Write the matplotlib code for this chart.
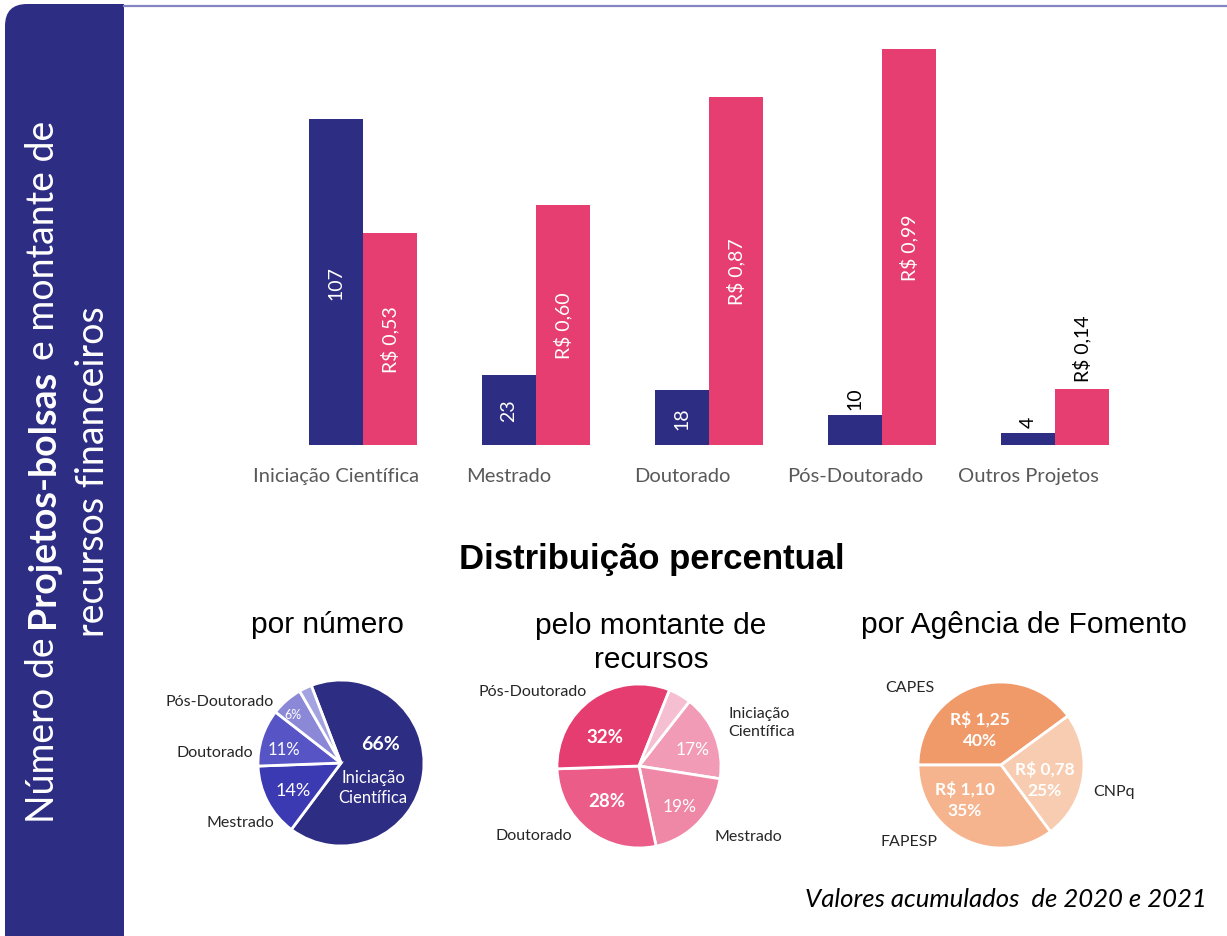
import numpy as np
import matplotlib
matplotlib.use('Agg')
import matplotlib.pyplot as plt
from matplotlib.patches import FancyBboxPatch, Rectangle
from matplotlib.lines import Line2D

# ---- data ----
categorias = ['Iniciação Científica', 'Mestrado', 'Doutorado', 'Pós-Doutorado', 'Outros Projetos']
n_bolsas = [107, 23, 18, 10, 4]
montante = [0.53, 0.60, 0.87, 0.99, 0.14]   # R$ (milhões)
agencias = ['CAPES', 'CNPq', 'FAPESP']
montante_agencia = [1.25, 0.78, 1.10]

NAVY = '#2e2d84'
PINK = '#e63e71'
cores_numero = ['#2e2d84', '#3c3ab2', '#5755c6', '#8b89d7', '#a4a3e1']
cores_montante = ['#f19bb6', '#ef87a7', '#eb5d88', '#e53d70', '#f6bfd1']
cores_agencia = ['#f09a69', '#f8ccb1', '#f5b48e']

W, H = 1227, 937
CAL = 'Lato'
ARIAL = 'Liberation Sans'


def fx(px):
    return px / W


def fy(py):
    return 1 - py / H


def reais(v):
    return f'R$ {v:.2f}'.replace('.', ',')


def pct(v, total):
    return f'{round(100 * v / total):.0f}%'


fig = plt.figure(figsize=(W / 100, H / 100), dpi=100)
fig.patch.set_facecolor('white')

# ---- side banner ----
banner = FancyBboxPatch((0.05, -0.5), 1.19, 9.82, boxstyle='round,pad=0,rounding_size=0.22',
                        transform=fig.dpi_scale_trans, facecolor=NAVY, edgecolor='none')
fig.patches.append(banner)
fig.patches.append(Rectangle((0.7, 8.8), 0.54, 0.52, transform=fig.dpi_scale_trans,
                             facecolor=NAVY, edgecolor='none'))
fig.lines.append(Line2D([fx(124), 1], [fy(7), fy(7)], transform=fig.transFigure,
                        color='#8584c2', lw=1.6))

# banner text, first line with bold middle part
renderer = fig.canvas.get_renderer()
side_size = 27
partes = [('Número de', 'normal'), ('Projetos-bolsas', 'bold'), ('e montante de', 'normal')]


def medir(s, weight):
    t = fig.text(0, 0, s, fontsize=side_size, family=CAL, weight=weight)
    w = t.get_window_extent(renderer).width
    t.remove()
    return w


espaco = medir('x x', 'normal') - medir('xx', 'normal')
larguras = [medir(s, wt) for s, wt in partes]
total = sum(larguras) + espaco * (len(partes) - 1)
centro_y = H - 472
y0 = centro_y - total / 2
for (s, wt), w in zip(partes, larguras):
    fig.text(fx(54), y0 / H, s, fontsize=side_size, family=CAL, weight=wt, color='white',
             rotation=90, rotation_mode='anchor', ha='left', va='baseline')
    y0 += w + espaco
fig.text(fx(104), centro_y / H, 'recursos financeiros', fontsize=side_size, family=CAL,
         color='white', rotation=90, rotation_mode='anchor', ha='center', va='baseline')

# ---- grouped bars ----
bar_left, bar_right, bar_top, bar_base = 170, 1210, 30, 446
passo, centro0 = 173, 336
px_bolsa, px_real = 3.047, 400
ax = fig.add_axes([fx(bar_left), fy(bar_base), (bar_right - bar_left) / W, (bar_base - bar_top) / H])
ax.set_xlim((bar_left - centro0) / passo, (bar_right - centro0) / passo)
ax.set_ylim(0, (bar_base - bar_top) / px_bolsa)
ax2 = ax.twinx()
ax2.set_ylim(0, (bar_base - bar_top) / px_real)

x = np.arange(len(categorias))
w = 54 / passo
ax.bar(x, n_bolsas, width=w, color=NAVY)
ax2.bar(x + w, montante, width=w, color=PINK)

for i, v in enumerate(n_bolsas):
    if v > 15:
        ax.text(i, v / 2, str(v), rotation=90, ha='center', va='center', color='white',
                fontsize=14, family=CAL)
    else:
        ax.annotate(str(v), (i, v), xytext=(0, 4), textcoords='offset points', rotation=90,
                    ha='center', va='bottom', color='black', fontsize=14, family=CAL)
for i, v in enumerate(montante):
    if v > 0.3:
        ax2.text(i + w, v / 2, reais(v), rotation=90, ha='center', va='center', color='white',
                 fontsize=14, family=CAL)
    else:
        ax2.annotate(reais(v), (i + w, v), xytext=(0, 6), textcoords='offset points', rotation=90,
                     ha='center', va='bottom', color='black', fontsize=14, family=CAL)

ax.set_xticks(x)
ax.set_xticklabels(categorias, family=CAL, fontsize=14.5, color='#595959')
ax.tick_params(axis='x', length=0, pad=16)
for a in (ax, ax2):
    a.set_yticks([])
    for sp in a.spines.values():
        sp.set_visible(False)
    a.patch.set_visible(False)

# ---- titles ----
fig.text(fx(652), fy(560), 'Distribuição percentual', family=ARIAL, weight='bold',
         fontsize=25, ha='center', va='center')
fig.text(fx(327), fy(625), 'por número', family=ARIAL, fontsize=21.5, ha='center', va='center')
fig.text(fx(651), fy(643), 'pelo montante de\nrecursos', family=ARIAL, fontsize=21.5,
         ha='center', va='center', linespacing=1.25)
fig.text(fx(1024), fy(625), 'por Agência de Fomento', family=ARIAL, fontsize=21.5,
         ha='center', va='center')


def pie_axes(cx, cy, r):
    a = fig.add_axes([fx(cx - r), fy(cy + r), 2 * r / W, 2 * r / H])
    return a


def txt(px, py, s, size=11.5, color='#262626', weight='normal', ha='center', ls=1.3):
    fig.text(fx(px), fy(py), s, family=CAL, fontsize=size, color=color, weight=weight,
             ha=ha, va='center', linespacing=ls)


wp = dict(edgecolor='white', linewidth=2)

# pie 1: por número
p1 = pie_axes(341, 764, 83)
p1.pie(n_bolsas, colors=cores_numero, startangle=111, counterclock=False, wedgeprops=wp)
p1.set_xlim(-1, 1)
p1.set_ylim(-1, 1)
tot1 = sum(n_bolsas)
txt(274, 702, 'Pós-Doutorado', ha='right')
txt(253, 753, 'Doutorado', ha='right')
txt(274, 823, 'Mestrado', ha='right')
txt(381, 745, pct(n_bolsas[0], tot1), size=14, color='white', weight='bold')
txt(373, 788, 'Iniciação\nCientífica', size=12, color='white', ls=1.25)
txt(293, 791, pct(n_bolsas[1], tot1), size=13, color='white')
txt(284, 750, pct(n_bolsas[2], tot1), size=12, color='white')
txt(293, 715, pct(n_bolsas[3], tot1), size=9, color='white')

# pie 2: pelo montante
p2 = pie_axes(639, 767, 82)
p2.pie(montante, colors=cores_montante, startangle=52, counterclock=False, wedgeprops=wp)
p2.set_xlim(-1, 1)
p2.set_ylim(-1, 1)
tot2 = sum(montante)
txt(587, 692, 'Pós-Doutorado', ha='right')
txt(728, 723, 'Iniciação\nCientífica', ha='left', ls=1.3)
txt(572, 836, 'Doutorado', ha='right')
txt(715, 837, 'Mestrado', ha='left')
txt(605, 738, pct(montante[3], tot2), size=13.5, color='white', weight='bold')
txt(607, 802, pct(montante[2], tot2), size=13.5, color='white', weight='bold')
txt(680, 807, pct(montante[1], tot2), size=12.5, color='white')
txt(693, 750, pct(montante[0], tot2), size=12.5, color='white')

# pie 3: por agência
p3 = pie_axes(1001, 766, 83)
p3.pie(montante_agencia, colors=cores_agencia, startangle=180, counterclock=False, wedgeprops=wp)
p3.set_xlim(-1, 1)
p3.set_ylim(-1, 1)
tot3 = sum(montante_agencia)
txt(910, 688, agencias[0])
txt(1114, 792, agencias[1])
txt(909, 842, agencias[2])
pos_rotulos = [(980, 730), (1045, 780), (965, 800)]
for (px, py), v in zip(pos_rotulos, montante_agencia):
    txt(px, py, f'{reais(v)}\n{pct(v, tot3)}', size=12.5, color='white', weight='bold', ls=1.35)

fig.text(fx(1207), fy(900), 'Valores acumulados  de 2020 e 2021', family=CAL, style='italic',
         fontsize=18.5, ha='right', va='center')

fig.savefig('out.png', dpi=100)
